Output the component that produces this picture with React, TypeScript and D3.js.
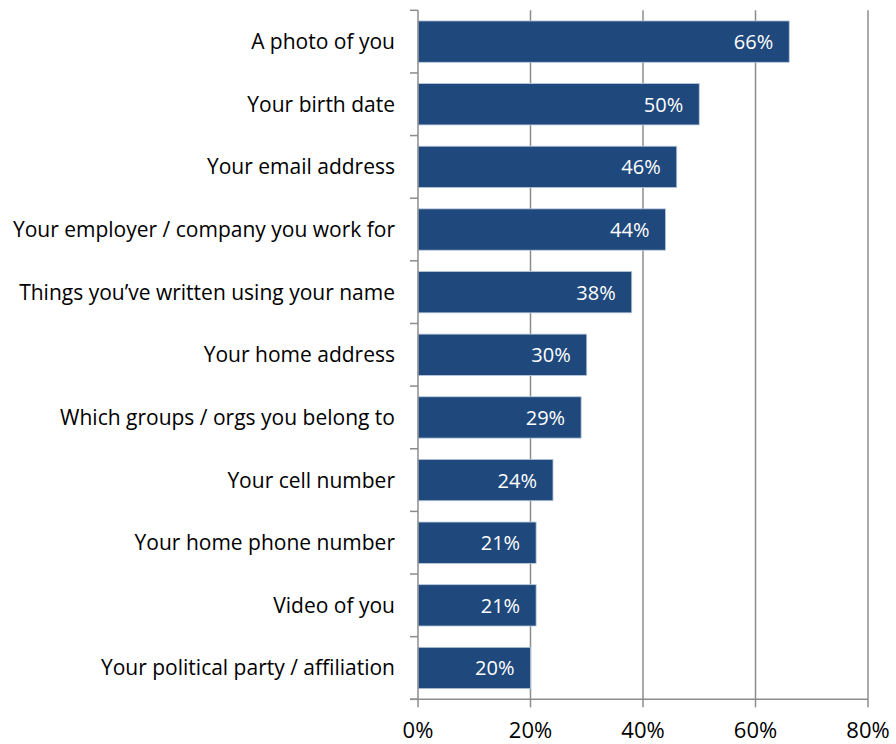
import React from "react";
import * as d3 from "d3";

const categories = [
  "A photo of you",
  "Your birth date",
  "Your email address",
  "Your employer / company you work for",
  "Things you\u2019ve written using your name",
  "Your home address",
  "Which groups / orgs you belong to",
  "Your cell number",
  "Your home phone number",
  "Video of you",
  "Your political party / affiliation",
];
const values = [0.66, 0.5, 0.46, 0.44, 0.38, 0.3, 0.29, 0.24, 0.21, 0.21, 0.2];
const xTicks = [0, 0.2, 0.4, 0.6, 0.8];

const W = 896;
const H = 744;
const left = 418;
const right = 868;
const top = 10.3;
const bottom = 699.3;
const FONT = "'Open Sans', sans-serif";
const GRID = "#8c8c8c";

export default function App() {
  const x = d3.scaleLinear().domain([0, 0.8]).range([left, right]);
  const y = d3
    .scaleBand<string>()
    .domain(categories)
    .range([top, bottom])
    .paddingInner(0.34)
    .paddingOuter(0.17);
  const step = y.step();
  const fmt = d3.format(".0%");

  return (
    <svg
      width={W}
      height={H}
      style={{ position: "absolute", left: 0, top: 0, background: "#fff" }}
    >
      {/* gridlines */}
      {xTicks.slice(1).map((t) => (
        <line key={t} x1={x(t)} x2={x(t)} y1={top} y2={bottom} stroke={GRID} strokeWidth={1.5} />
      ))}
      {/* bars */}
      {categories.map((c, i) => (
        <g key={c}>
          <rect
            x={x(0)}
            y={y(c)!}
            width={x(values[i]) - x(0)}
            height={y.bandwidth()}
            fill="#1F497D"
            stroke="#B9C9DD"
            strokeWidth={0.8}
          />
          <text
            x={x(values[i]) - 16}
            y={y(c)! + y.bandwidth() / 2 + 7.5}
            textAnchor="end"
            fill="#fff"
            fontFamily={FONT}
            fontSize={20}
          >
            {fmt(values[i])}
          </text>
          <text
            x={395}
            y={y(c)! + y.bandwidth() / 2 + 7.5}
            textAnchor="end"
            fill="#000"
            fontFamily={FONT}
            fontSize={21}
          >
            {c}
          </text>
        </g>
      ))}
      {/* y axis */}
      <line x1={left} x2={left} y1={top} y2={bottom} stroke={GRID} strokeWidth={1.5} />
      {d3.range(categories.length + 1).map((i) => (
        <line
          key={i}
          x1={left - 8}
          x2={left}
          y1={top + i * step}
          y2={top + i * step}
          stroke={GRID}
          strokeWidth={1.5}
        />
      ))}
      {/* x axis */}
      <line x1={left - 8} x2={right} y1={bottom} y2={bottom} stroke={GRID} strokeWidth={1.5} />
      {xTicks.map((t) => (
        <g key={t}>
          <line x1={x(t)} x2={x(t)} y1={bottom} y2={bottom + 8} stroke={GRID} strokeWidth={1.5} />
          <text
            x={x(t)}
            y={738}
            textAnchor="middle"
            fill="#000"
            fontFamily={FONT}
            fontSize={22}
          >
            {fmt(t)}
          </text>
        </g>
      ))}
    </svg>
  );
}
